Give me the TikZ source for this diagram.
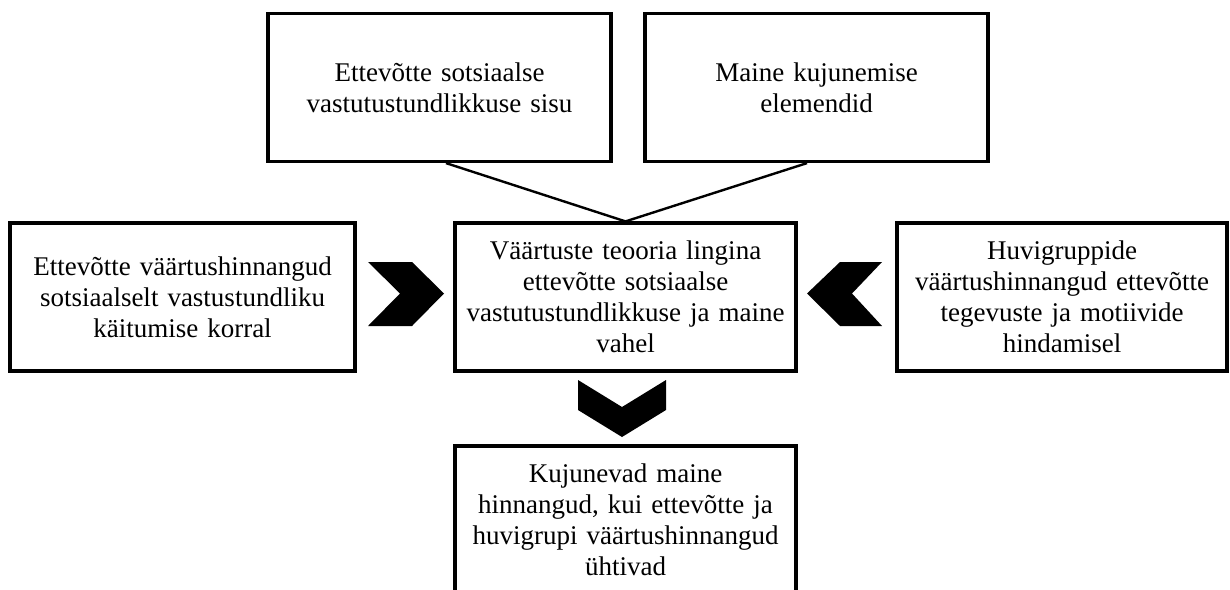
\documentclass[tikz,border=0pt]{standalone}
\usepackage{fontspec}
\setmainfont{Liberation Serif}
\tikzset{
    box/.style={draw, line width=1.6pt, align=center, inner sep=0pt,
        minimum height=74pt, font=\fontsize{13.5}{15.5}\selectfont},
    chevron/.style={fill=black},
}
\begin{document}
\begin{tikzpicture}[x=0.5pt, y=-0.5pt]
    \useasboundingbox (0,0) rectangle (1230,589);

    % Top row
    \node[box, text width=171.5pt] (sisu) at (439.5,87.5) {Ettevõtte sotsiaalse\\vastutustundlikkuse sisu};
    \node[box, text width=171.5pt] (elemendid) at (816.5,87.5) {Maine kujunemise\\elemendid};

    % Middle row
    \node[box, text width=172.5pt] (ettevote) at (182.5,297) {Ettevõtte väärtushinnangud\\sotsiaalselt vastustundliku\\käitumise korral};
    \node[box, text width=170.5pt] (teooria) at (625.5,297) {Väärtuste teooria lingina\\ettevõtte sotsiaalse\\vastutustundlikkuse ja maine\\vahel};
    \node[box, text width=165pt] (huvi) at (1062,297) {Huvigruppide\\väärtushinnangud ettevõtte\\tegevuste ja motiivide\\hindamisel};

    % Bottom box (cut by the page edge)
    \node[box, text width=170.5pt] (tulem) at (625.5,520) {Kujunevad maine\\hinnangud, kui ettevõtte ja\\huvigrupi väärtushinnangud\\ühtivad};

    % Lines into the middle box
    \draw[line width=1.2pt] ([xshift=3.25pt]sisu.south) -- (teooria.north);
    \draw[line width=1.2pt] ([xshift=-4.75pt]elemendid.south) -- (teooria.north);

    % Chevrons
    \fill[chevron] (368,262) -- (412,262) -- (444,293.5) -- (412,326) -- (368,326) -- (400,293.5) -- cycle;
    \fill[chevron] (882,262) -- (840,262) -- (807,293.5) -- (840,326) -- (882,326) -- (852,293.5) -- cycle;
    \fill[chevron] (578,380) -- (622,407) -- (666,380) -- (666,410) -- (622,437) -- (578,410) -- cycle;
\end{tikzpicture}
\end{document}
